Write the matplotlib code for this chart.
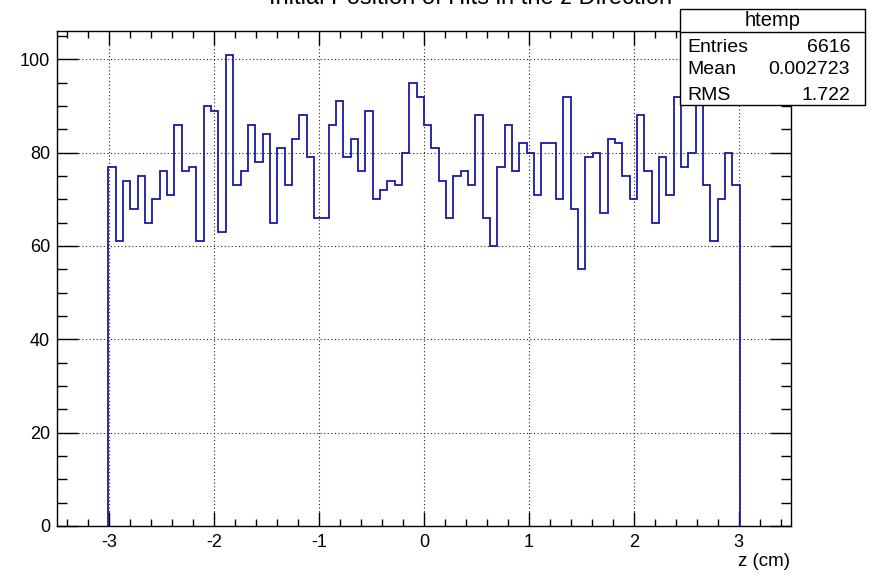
import numpy as np
import matplotlib
matplotlib.use("Agg")
import matplotlib.pyplot as plt
from matplotlib.ticker import MultipleLocator
from matplotlib.patches import Rectangle
from matplotlib.lines import Line2D

plt.rcParams['font.family'] = ['Liberation Sans', 'DejaVu Sans']

# ---- data ----
counts = [77, 61, 74, 68, 75, 65, 70, 76, 71, 86,
          76, 77, 61, 90, 89, 63, 101, 73, 76, 86,
          78, 84, 65, 81, 73, 83, 88, 79, 66, 66,
          86, 91, 79, 83, 76, 89, 70, 72, 74, 73,
          80, 95, 92, 86, 81, 74, 66, 75, 76, 73,
          88, 66, 60, 77, 86, 76, 82, 80, 71, 82,
          82, 70, 92, 68, 55, 79, 80, 67, 83, 82,
          75, 70, 88, 76, 65, 79, 71, 92, 77, 80,
          91, 73, 61, 70, 80, 73]
bin_low = -3.01
bin_width = 0.07
x_ticks = [-3, -2, -1, 0, 1, 2, 3]
y_ticks = [0, 20, 40, 60, 80, 100]
title = "Initial Position of Hits in the z Direction"
xlabel = "z (cm)"
stat_title = "htemp"
stat_names = ["Entries", "Mean", "RMS"]
stat_values = ["6616", "0.002723", "1.722"]

# ---- figure ----
W, H = 872, 574
fig = plt.figure(figsize=(W / 100, H / 100), dpi=100)
L, R, T, B = 57, 791, 31, 526
ax = fig.add_axes([L / W, (H - B) / H, (R - L) / W, (B - T) / H])

edges = bin_low + bin_width * np.arange(len(counts) + 1)
ax.stairs(counts, edges, baseline=0, color='#1a1aa6', lw=1.3, zorder=3)

ax.set_xlim(-3.5, 3.5)
ax.set_ylim(0, 1.05 * max(counts))
ax.set_xticks(x_ticks)
ax.set_yticks(y_ticks)
ax.set_xticklabels([str(v) for v in x_ticks])
ax.xaxis.set_minor_locator(MultipleLocator(0.2))
ax.yaxis.set_minor_locator(MultipleLocator(5))

for v in x_ticks:
    ax.axvline(v, color='#222222', lw=0.8, ls=(0, (1, 2.2)), zorder=1)
for v in y_ticks[1:]:
    ax.axhline(v, color='#222222', lw=0.8, ls=(0, (1, 2.2)), zorder=1)

ax.tick_params(axis='both', which='both', direction='in', top=True, right=True,
               width=1, labelsize=13, colors='black')
ax.tick_params(axis='x', which='major', length=10, pad=6)
ax.tick_params(axis='x', which='minor', length=5)
ax.tick_params(axis='y', which='major', length=15, pad=5)
ax.tick_params(axis='y', which='minor', length=7.5)
for s in ax.spines.values():
    s.set_linewidth(1)
    s.set_color('black')

fig.text(790 / W, 1 - 562 / H, xlabel, ha='right', va='center', fontsize=13.5)

# title, cut off at the top edge as in the reference
fig.text(471 / W, 1 - 4 / H, title, ha='center', va='baseline', fontsize=17)

# stat box
bx0, bx1, by0, by1 = 680, 865, 9, 105
fig.patches.append(Rectangle((bx0 / W, 1 - by1 / H), (bx1 - bx0) / W, (by1 - by0) / H,
                             transform=fig.transFigure, facecolor='white',
                             edgecolor='black', lw=1, zorder=5))
fig.lines.append(Line2D([bx0 / W, bx1 / W], [1 - 32 / H, 1 - 32 / H],
                        transform=fig.transFigure, color='black', lw=1, zorder=6))
fig.text((bx0 + bx1) / 2 / W, 1 - 20.5 / H, stat_title, ha='center', va='center',
         fontsize=14.5, zorder=7)
row_y = [47, 70, 95]
for name, val, yy in zip(stat_names, stat_values, row_y):
    fig.text(687 / W, 1 - yy / H, name, ha='left', va='center', fontsize=14, zorder=7)
    fig.text(850 / W, 1 - yy / H, val, ha='right', va='center', fontsize=14, zorder=7)

fig.savefig("out.png", dpi=100)
